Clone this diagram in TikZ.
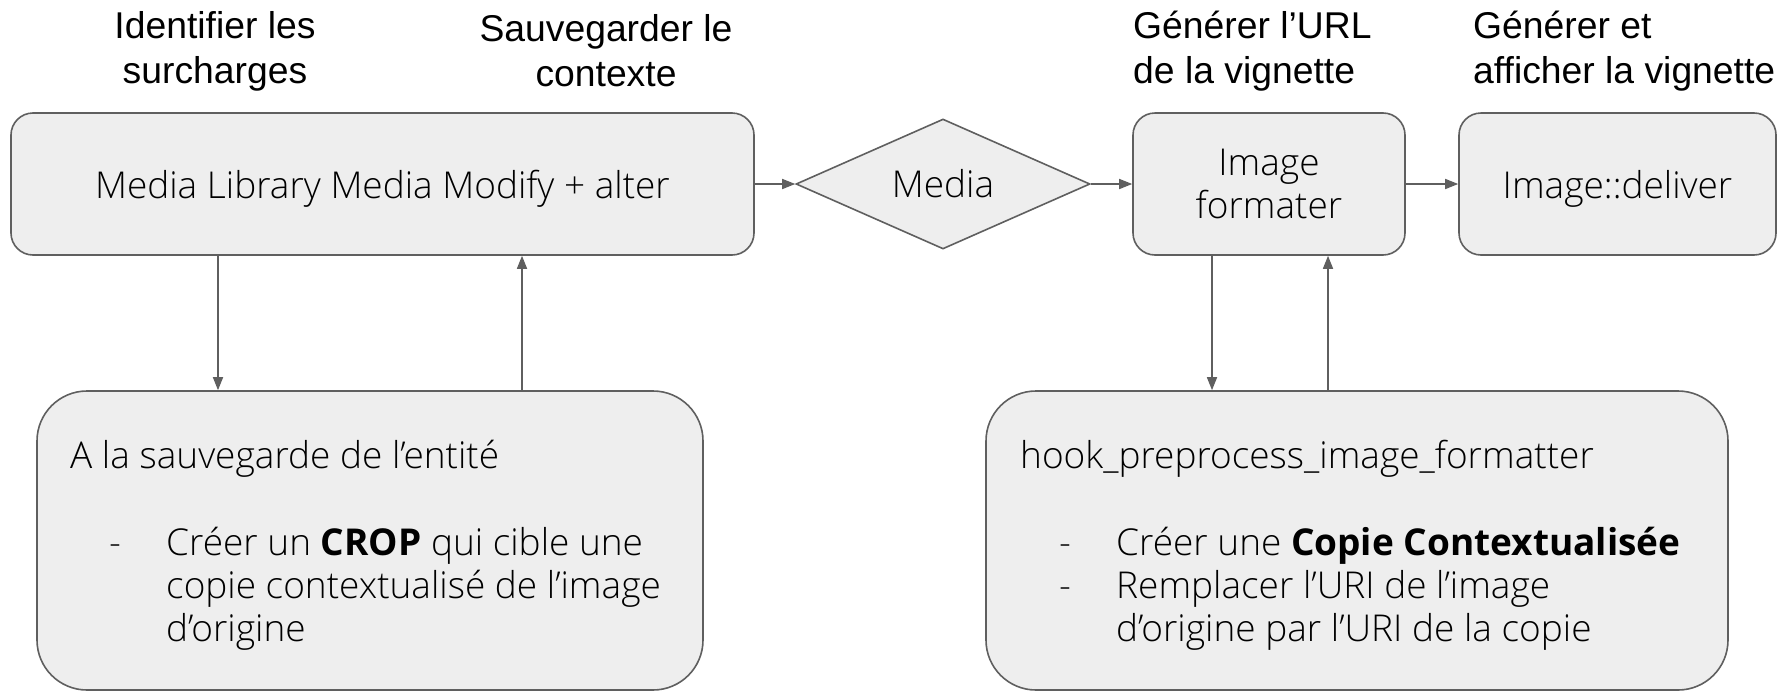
\documentclass[tikz,border=0pt]{standalone}
\usepackage{fontspec}
\setmainfont{Liberation Sans}
\IfFontExistsTF{OpenSans-Light.ttf}{\newfontfamily\boxfont{OpenSans-Light.ttf}}{%
  \IfFontExistsTF{OpenSans-Light.otf}{\newfontfamily\boxfont{OpenSans-Light.otf}}{%
    \newfontfamily\boxfont{Open Sans}}}
\newfontfamily\boxbold{Open Sans}
\usetikzlibrary{arrows.meta,shapes.geometric}
\definecolor{boxfill}{HTML}{EEEEEE}
\definecolor{boxline}{HTML}{5F5F5F}

\begin{document}
\begin{tikzpicture}[x=1pt,y=-1pt,
    title/.style={font=\fontsize{37.3}{45}\selectfont, inner sep=0},
    block/.style={draw=boxline, fill=boxfill, line width=1.6pt, rounded corners=22pt,
      font=\boxfont\fontsize{37}{43}\selectfont, align=center, inner sep=0, text depth=0pt},
    bigblock/.style={block, rounded corners=50pt},
    line/.style={font=\boxfont\fontsize{37}{43}\selectfont, anchor=base west, inner sep=0},
    link/.style={draw=boxline, line width=1.6pt, -{Triangle[length=13pt, width=10pt]}}]
  \useasboundingbox (0,0) rectangle (1777,691);

  % titles
  \node[title, align=center] (t1) at (215,51) {Identifier les\\surcharges};
  \node[title, align=center] (t2) at (606,51) {Sauvegarder le\\contexte};
  \node[title, align=left, anchor=west] (t3) at (1133,51) {Générer l’URL\\de la vignette};
  \node[title, align=left, anchor=west] (t4) at (1473,51) {Générer et\\afficher la vignette};

  % top row
  \node[block, minimum width=743pt, minimum height=142pt] (library) at (382.5,184) {Media Library Media Modify + alter};
  \node[draw=boxline, fill=boxfill, line width=1.6pt, diamond, inner sep=0, aspect=2.26,
    minimum width=294pt, minimum height=130pt, font=\boxfont\fontsize{37}{43}\selectfont] (media) at (943,184) {Media};
  \node[block, minimum width=272pt, minimum height=142pt] (formater) at (1269,184) {Image\\formater};
  \node[block, minimum width=317pt, minimum height=142pt] (deliver) at (1617.5,184) {Image::deliver};

  % bottom row
  \node[bigblock, minimum width=666pt, minimum height=299pt] (save) at (370,540.5) {};
  \node[bigblock, minimum width=742pt, minimum height=299pt] (hook) at (1357,540.5) {};

  \node[line] (s0) at (70,468) {A la sauvegarde de l’entité};
  \node[line] (sd) at (109,555) {-};
  \node[line] (s1) at (166,555) {Créer un {\boxbold\bfseries CROP} qui cible une};
  \node[line] (s2) at (166,598) {copie contextualisé de l’image};
  \node[line] (s3) at (166,641) {d’origine};

  \node[line] (h0) at (1020,468) {hook\_preprocess\_image\_formatter};
  \node[line] (hd1) at (1059,555) {-};
  \node[line] (hd2) at (1059,598) {-};
  \node[line] (h1) at (1116,555) {Créer une {\boxbold\bfseries Copie Contextualisée}};
  \node[line] (h2) at (1116,598) {Remplacer l’URI de l’image};
  \node[line] (h3) at (1116,641) {d’origine par l’URI de la copie};

  % connectors
  \draw[link] (library.east) -- (media.west);
  \draw[link] (media.east) -- (formater.west);
  \draw[link] (formater.east) -- (deliver.west);

  \coordinate (x1) at (218,0);
  \coordinate (x2) at (522,0);
  \coordinate (x3) at (1212,0);
  \coordinate (x4) at (1328,0);
  \draw[link] (library.south -| x1) -- (save.north -| x1);
  \draw[link] (save.north -| x2) -- (library.south -| x2);
  \draw[link] (formater.south -| x3) -- (hook.north -| x3);
  \draw[link] (hook.north -| x4) -- (formater.south -| x4);
\end{tikzpicture}
\end{document}
